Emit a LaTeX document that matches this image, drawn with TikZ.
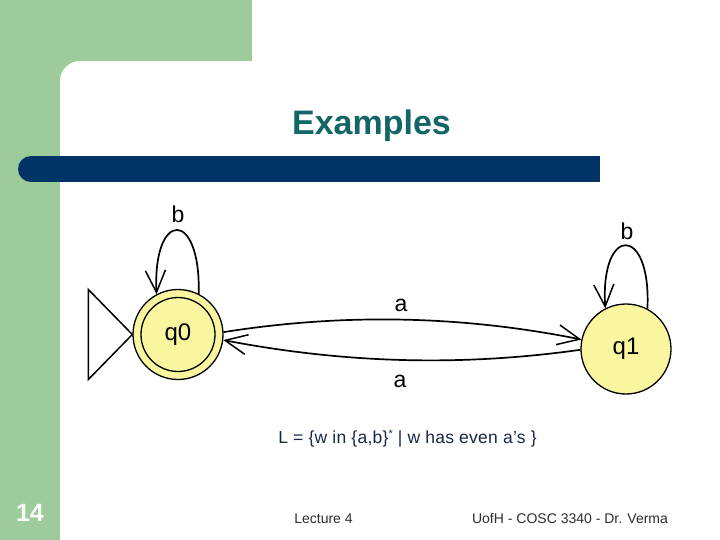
\documentclass[tikz,border=0pt]{standalone}
\usepackage{fontspec}
\setmainfont{Liberation Sans}
\usetikzlibrary{arrows.meta}
\definecolor{slidegreen}{RGB}{157,203,153}
\definecolor{barblue}{RGB}{0,51,102}
\definecolor{titleteal}{RGB}{18,102,102}
\definecolor{stateyellow}{RGB}{250,246,160}
\definecolor{textnavy}{RGB}{25,40,70}
\definecolor{footgray}{RGB}{45,45,50}
\begin{document}
\begin{tikzpicture}[x=1pt,y=-1pt,
  state/.style={circle,draw=black,line width=1.3pt,fill=stateyellow,minimum size=90pt,inner sep=0pt,font=\fontsize{24}{26}\selectfont},
  lbl/.style={font=\fontsize{23}{26}\selectfont,inner sep=0pt},
  edge/.style={line width=1.7pt,-{Straight Barb[length=22pt,width=20pt,line width=1.5pt]}},
]
\useasboundingbox (0,0) rectangle (720,540);
\fill[white] (0,0) rectangle (720,540);
% slide decoration
\fill[slidegreen] (0,0) rectangle (252,61);
\fill[slidegreen] (0,0) rectangle (60,540);
\fill[slidegreen] (60,61) rectangle (80,81);
\fill[white] (80,81) circle[radius=20];
\fill[barblue] (31,156) rectangle (600,182);
\fill[barblue] (31,169) circle[radius=13];
% title
\node[anchor=base,font=\fontsize{34}{40}\selectfont\bfseries,text=titleteal] (title) at (371.5,135) {Examples};
% states
\node[state] (q0) at (178,334.5) {q0};
\draw[line width=1.3pt] (q0.center) circle[radius=37];
\node[state] (q1) at (626,349) {q1};
% initial marker
\draw[line width=1.5pt] (q0.west) -- ++(-44,-45) -- ++(0,90) -- cycle;
% transitions
\draw[edge] (q0.3) .. controls +(120,-19) and +(-120,-24) .. (q1.168);
\draw[edge] (q1.181) .. controls +(-121,17) and +(120,23) .. (q0.-7);
\draw[edge] (q0.63) .. controls +(2,-86) and +(-4,-84) .. (q0.118);
\draw[edge] (q1.62) .. controls +(4,-84) and +(-5,-84) .. (q1.117);
% labels
\node[lbl] (la1) at (401,305) {a};
\node[lbl] (la2) at (400,381.5) {a};
\node[lbl] (lb0) at (178,214) {b};
\node[lbl] (lb1) at (627,231.5) {b};
% texts
\node[anchor=base,font=\fontsize{17.5}{20}\selectfont\addfontfeature{LetterSpace=1.5},text=textnavy] (lang) at (407.5,443) {L = \{w in \{a,b\}\raisebox{5.5pt}{\fontsize{11}{11}\selectfont *} | w has even a’s \}};
\node[anchor=base,font=\fontsize{14}{17}\selectfont,text=footgray] (lec) at (323.5,523) {Lecture 4};
\node[anchor=base,font=\fontsize{14}{17}\selectfont,text=footgray] (auth) at (570,523) {UofH - COSC 3340 - Dr. Verma};
\node[anchor=base,font=\fontsize{25}{28}\selectfont\bfseries,text=white] (num) at (30,521) {14};
\end{tikzpicture}
\end{document}
